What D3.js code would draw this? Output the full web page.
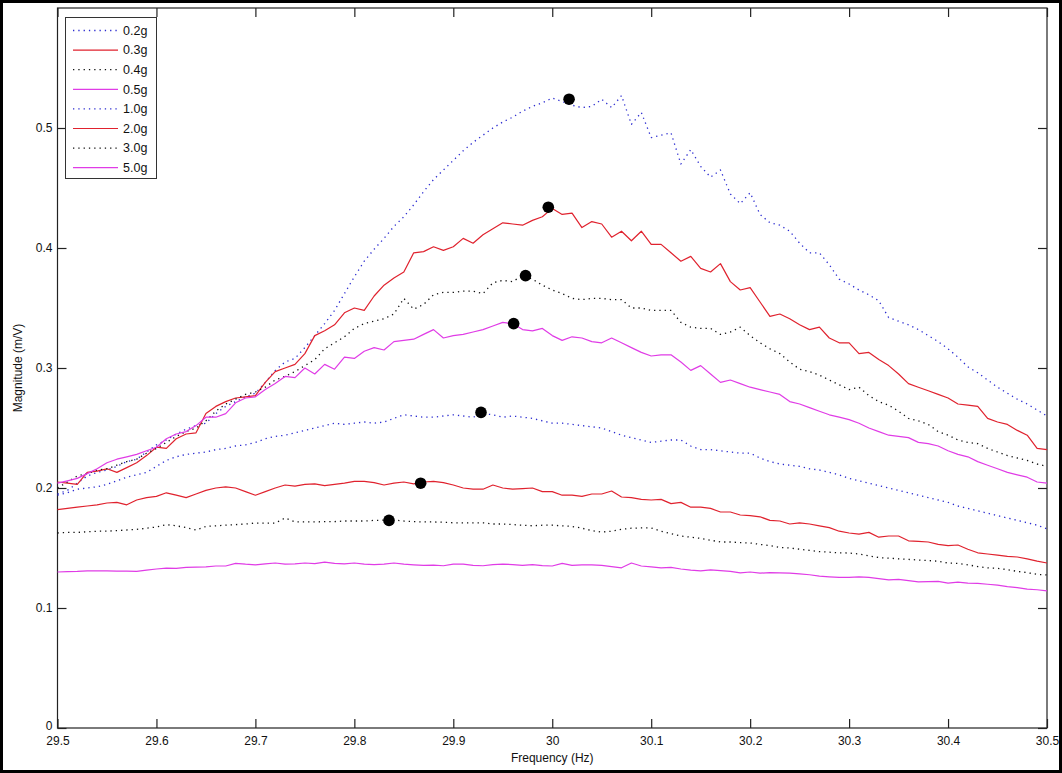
<!DOCTYPE html>
<html>
<head>
<meta charset="utf-8">
<script src="https://cdn.jsdelivr.net/npm/d3@7"></script>
<style>
  html, body { margin: 0; padding: 0; background: #fff; }
  svg { display: block; font-family: "Liberation Sans", Arial, sans-serif; }
</style>
</head>
<body>
<svg id="chart" width="1062" height="773"></svg>
<script>
// Frequency sweep: 29.5 Hz to 30.5 Hz in 0.01 Hz steps
const freqStart = 29.5;
const freqStep = 0.01;
const sampleCount = 101;

const seriesNames = ["0.2g", "0.3g", "0.4g", "0.5g", "1.0g", "2.0g", "3.0g", "5.0g"];

const mag02 = [0.195,0.198,0.204,0.210,0.213,0.215,0.218,0.222,0.224,0.230,0.236,0.240,0.245,0.249,0.252,0.254,0.262,0.268,0.272,0.276,0.279,0.288,0.298,0.305,0.308,0.317,0.327,0.337,0.348,0.362,0.376,0.389,0.399,0.408,0.418,0.426,0.436,0.447,0.457,0.465,0.473,0.481,0.488,0.494,0.500,0.505,0.509,0.514,0.518,0.521,0.525,0.522,0.519,0.517,0.518,0.524,0.517,0.527,0.503,0.513,0.492,0.494,0.496,0.470,0.482,0.468,0.459,0.465,0.445,0.437,0.446,0.428,0.421,0.419,0.414,0.404,0.396,0.396,0.386,0.374,0.370,0.365,0.361,0.356,0.342,0.339,0.336,0.332,0.327,0.322,0.316,0.309,0.301,0.296,0.290,0.284,0.279,0.274,0.270,0.265,0.260];

const mag03 = [0.205,0.204,0.203,0.213,0.214,0.216,0.213,0.217,0.221,0.227,0.234,0.233,0.241,0.245,0.246,0.262,0.268,0.272,0.275,0.276,0.277,0.288,0.297,0.300,0.303,0.312,0.327,0.331,0.336,0.346,0.350,0.348,0.360,0.369,0.375,0.380,0.396,0.397,0.401,0.398,0.401,0.408,0.404,0.411,0.416,0.421,0.420,0.419,0.423,0.426,0.433,0.428,0.429,0.417,0.422,0.420,0.409,0.414,0.406,0.414,0.403,0.403,0.396,0.389,0.393,0.383,0.380,0.387,0.372,0.365,0.367,0.355,0.343,0.345,0.341,0.336,0.332,0.334,0.325,0.321,0.321,0.312,0.313,0.307,0.302,0.295,0.287,0.284,0.281,0.278,0.275,0.270,0.269,0.268,0.258,0.255,0.253,0.248,0.244,0.233,0.232];

const mag04 = [0.200,0.205,0.210,0.212,0.215,0.216,0.219,0.222,0.224,0.229,0.233,0.238,0.243,0.247,0.250,0.256,0.264,0.270,0.274,0.278,0.280,0.284,0.290,0.293,0.297,0.302,0.307,0.316,0.321,0.326,0.333,0.337,0.339,0.341,0.345,0.358,0.349,0.353,0.361,0.363,0.363,0.364,0.364,0.362,0.371,0.373,0.372,0.377,0.374,0.369,0.365,0.362,0.358,0.357,0.358,0.358,0.357,0.357,0.350,0.350,0.348,0.348,0.348,0.338,0.334,0.333,0.333,0.328,0.330,0.334,0.327,0.321,0.316,0.312,0.305,0.299,0.297,0.294,0.290,0.286,0.282,0.284,0.277,0.272,0.269,0.264,0.258,0.256,0.253,0.247,0.244,0.240,0.238,0.237,0.233,0.230,0.227,0.225,0.223,0.220,0.218];

const mag05 = [0.204,0.206,0.208,0.212,0.216,0.221,0.224,0.226,0.228,0.231,0.234,0.241,0.245,0.247,0.252,0.259,0.259,0.262,0.271,0.275,0.276,0.282,0.287,0.293,0.292,0.300,0.295,0.303,0.299,0.309,0.308,0.314,0.317,0.315,0.322,0.323,0.324,0.328,0.332,0.325,0.327,0.328,0.330,0.332,0.335,0.338,0.337,0.332,0.331,0.333,0.327,0.323,0.326,0.325,0.322,0.321,0.325,0.321,0.317,0.313,0.310,0.311,0.311,0.305,0.298,0.302,0.295,0.288,0.290,0.287,0.284,0.282,0.280,0.278,0.272,0.270,0.267,0.264,0.261,0.259,0.257,0.254,0.250,0.247,0.244,0.243,0.242,0.238,0.237,0.235,0.231,0.228,0.226,0.222,0.219,0.216,0.213,0.211,0.209,0.205,0.204];

const mag10 = [0.194,0.196,0.199,0.200,0.201,0.203,0.206,0.209,0.211,0.213,0.218,0.223,0.226,0.228,0.229,0.230,0.232,0.233,0.235,0.236,0.238,0.241,0.243,0.244,0.246,0.248,0.250,0.252,0.254,0.253,0.254,0.255,0.254,0.255,0.258,0.261,0.260,0.259,0.259,0.260,0.261,0.260,0.259,0.262,0.261,0.259,0.260,0.259,0.258,0.256,0.254,0.254,0.253,0.252,0.251,0.250,0.247,0.244,0.242,0.240,0.238,0.239,0.240,0.240,0.235,0.232,0.232,0.231,0.230,0.229,0.229,0.225,0.222,0.220,0.219,0.218,0.216,0.215,0.213,0.211,0.208,0.206,0.204,0.202,0.200,0.198,0.196,0.194,0.192,0.190,0.188,0.185,0.183,0.181,0.179,0.177,0.175,0.173,0.171,0.169,0.166];

const mag20 = [0.182,0.183,0.184,0.185,0.186,0.1875,0.188,0.186,0.190,0.192,0.193,0.196,0.194,0.192,0.195,0.198,0.200,0.201,0.200,0.197,0.194,0.197,0.200,0.2025,0.2015,0.203,0.2035,0.202,0.203,0.204,0.2055,0.2055,0.2045,0.2025,0.204,0.205,0.2035,0.205,0.2055,0.2045,0.2025,0.200,0.199,0.199,0.2025,0.200,0.199,0.1995,0.200,0.197,0.197,0.194,0.194,0.193,0.195,0.195,0.1975,0.1925,0.192,0.1905,0.190,0.1905,0.187,0.188,0.184,0.184,0.183,0.180,0.180,0.1775,0.177,0.176,0.173,0.1725,0.170,0.171,0.170,0.1685,0.167,0.164,0.1625,0.1615,0.163,0.159,0.160,0.160,0.156,0.1555,0.155,0.153,0.152,0.1525,0.149,0.146,0.145,0.144,0.143,0.1425,0.141,0.139,0.1375];

const mag30 = [0.1625,0.163,0.163,0.1635,0.164,0.164,0.1645,0.165,0.1655,0.1665,0.1675,0.1695,0.1685,0.167,0.165,0.168,0.1685,0.169,0.1695,0.170,0.1708,0.1708,0.1708,0.175,0.1717,0.1717,0.1717,0.172,0.172,0.1725,0.1725,0.1725,0.173,0.1732,0.1733,0.1725,0.172,0.1717,0.1717,0.1715,0.171,0.171,0.171,0.171,0.170,0.170,0.1695,0.169,0.1685,0.169,0.169,0.1685,0.168,0.1665,0.1645,0.1633,0.164,0.1655,0.1665,0.1667,0.1667,0.164,0.162,0.160,0.159,0.158,0.1565,0.155,0.155,0.1545,0.1542,0.153,0.152,0.1505,0.150,0.149,0.148,0.147,0.1465,0.146,0.1458,0.145,0.1435,0.142,0.1415,0.141,0.1405,0.140,0.1395,0.139,0.1375,0.1372,0.136,0.1345,0.1335,0.133,0.132,0.1305,0.1295,0.128,0.1275];

const mag50 = [0.130,0.1303,0.1305,0.131,0.131,0.131,0.1308,0.1308,0.1305,0.1315,0.1325,0.1333,0.133,0.1338,0.134,0.1343,0.135,0.135,0.1372,0.1365,0.136,0.1368,0.1375,0.1365,0.1368,0.1375,0.137,0.1383,0.1372,0.1368,0.1375,0.1365,0.1362,0.1365,0.1375,0.1365,0.136,0.1355,0.1358,0.1352,0.1365,0.1365,0.1355,0.1352,0.1362,0.1365,0.1362,0.1355,0.1362,0.1353,0.135,0.1372,0.1355,0.136,0.136,0.1355,0.1345,0.1335,0.1375,0.135,0.1342,0.1335,0.1338,0.1325,0.1315,0.131,0.1318,0.1312,0.1305,0.1292,0.130,0.129,0.1295,0.1293,0.129,0.1285,0.1277,0.1265,0.126,0.1255,0.1255,0.126,0.1255,0.1245,0.1235,0.1238,0.1228,0.1218,0.122,0.1222,0.1208,0.1215,0.1208,0.1205,0.1198,0.119,0.1178,0.117,0.1158,0.1152,0.1142];

// Resonance peak estimates (no peak marked for 5.0g)
const peakFreq = [30.017, 29.996, 29.973, 29.961, 29.928, 29.867, 29.835];
const peakMag  = [0.524, 0.434, 0.377, 0.337, 0.263, 0.204, 0.173];

const xTicks = [29.5, 29.6, 29.7, 29.8, 29.9, 30, 30.1, 30.2, 30.3, 30.4, 30.5];
const yTicks = [0, 0.1, 0.2, 0.3, 0.4, 0.5];

const magnitudes = [mag02, mag03, mag04, mag05, mag10, mag20, mag30, mag50];
const colors = ["#2b2bd0", "#e0222e", "#111111", "#e03ce6", "#2b2bd0", "#e0222e", "#111111", "#e03ce6"];
const dotted = [true, false, true, false, true, false, true, false];

const W = 1062, H = 773;
const plot = { left: 57.5, right: 1047, top: 8, bottom: 728 };

const svg = d3.select("#chart");

// Outer frame
svg.append("rect").attr("x", 1.5).attr("y", 1.5).attr("width", W - 3).attr("height", H - 3)
  .attr("fill", "#fff").attr("stroke", "#000").attr("stroke-width", 3);

const x = d3.scaleLinear().domain([29.5, 30.5]).range([plot.left, plot.right]);
const y = d3.scaleLinear().domain([0, 0.6]).range([plot.bottom, plot.top]);

const freqs = d3.range(sampleCount).map(i => freqStart + i * freqStep);

// Axes box
svg.append("rect")
  .attr("x", plot.left).attr("y", plot.top)
  .attr("width", plot.right - plot.left).attr("height", plot.bottom - plot.top)
  .attr("fill", "#fff").attr("stroke", "#222").attr("stroke-width", 1.2);

const tickLen = 9;
const fmtX = d3.format("");
const axisStyle = g => {
  g.select(".domain").remove();
  g.selectAll("line").attr("stroke", "#222").attr("stroke-width", 1.2);
  g.selectAll("text").attr("fill", "#111").style("font-size", "12px");
};

// Bottom axis (ticks pointing inward)
svg.append("g").attr("transform", `translate(0,${plot.bottom})`)
  .call(d3.axisBottom(x).tickValues(xTicks).tickSizeInner(-tickLen).tickSizeOuter(0).tickPadding(4)
    .tickFormat(d => fmtX(d)))
  .call(axisStyle)
  .call(g => g.selectAll("text").attr("dy", "0.71em").attr("y", 8));

// Top axis ticks, no labels
svg.append("g").attr("transform", `translate(0,${plot.top})`)
  .call(d3.axisTop(x).tickValues(xTicks).tickSizeInner(-tickLen).tickSizeOuter(0).tickFormat(""))
  .call(axisStyle);

// Left axis
svg.append("g").attr("transform", `translate(${plot.left},0)`)
  .call(d3.axisLeft(y).tickValues(yTicks).tickSizeInner(-tickLen).tickSizeOuter(0).tickPadding(5)
    .tickFormat(d => d === 0 ? "0" : d3.format(".1f")(d)))
  .call(axisStyle)
  .call(g => g.selectAll("text").attr("x", -5).attr("dy", d => d === 0 ? "0.1em" : "0.32em"));

// Right axis ticks, no labels
svg.append("g").attr("transform", `translate(${plot.right},0)`)
  .call(d3.axisRight(y).tickValues(yTicks).tickSizeInner(-tickLen).tickSizeOuter(0).tickFormat(""))
  .call(axisStyle);

// Axis titles
svg.append("text").attr("x", (plot.left + plot.right) / 2).attr("y", 762)
  .attr("text-anchor", "middle").style("font-size", "12px").attr("fill", "#111")
  .text("Frequency (Hz)");
svg.append("text").attr("transform", `translate(22,${(plot.top + plot.bottom) / 2}) rotate(-90)`)
  .attr("text-anchor", "middle").style("font-size", "12px").attr("fill", "#111")
  .text("Magnitude (m/V)");

// Response curves
const line = d3.line().x((d, i) => x(freqs[i])).y(d => y(d));
const curves = svg.append("g");
magnitudes.forEach((vals, s) => {
  curves.append("path")
    .datum(vals)
    .attr("d", line)
    .attr("fill", "none")
    .attr("stroke", colors[s])
    .attr("stroke-width", dotted[s] ? 1.3 : 1.2)
    .attr("stroke-dasharray", dotted[s] ? "1.3,4" : null)
    .attr("stroke-linejoin", "round");
});

// Peak markers
svg.append("g").selectAll("circle")
  .data(peakFreq.map((f, i) => [f, peakMag[i]]))
  .join("circle")
  .attr("cx", d => x(d[0])).attr("cy", d => y(d[1]))
  .attr("r", 5.8).attr("fill", "#000");

// Legend
const legend = svg.append("g");
legend.append("rect").attr("x", 65.5).attr("y", 17.5).attr("width", 91).attr("height", 161)
  .attr("fill", "#fff").attr("stroke", "#333").attr("stroke-width", 1);
seriesNames.forEach((name, s) => {
  const cy = 30.5 + s * 19.6;
  legend.append("line").attr("x1", 73).attr("x2", 118).attr("y1", cy).attr("y2", cy)
    .attr("stroke", colors[s]).attr("stroke-width", dotted[s] ? 1.3 : 1.2)
    .attr("stroke-dasharray", dotted[s] ? "1.3,4" : null);
  legend.append("text").attr("x", 123).attr("y", cy).attr("dy", "0.35em")
    .style("font-size", "12.5px").attr("fill", "#111").text(name);
});
</script>
</body>
</html>
